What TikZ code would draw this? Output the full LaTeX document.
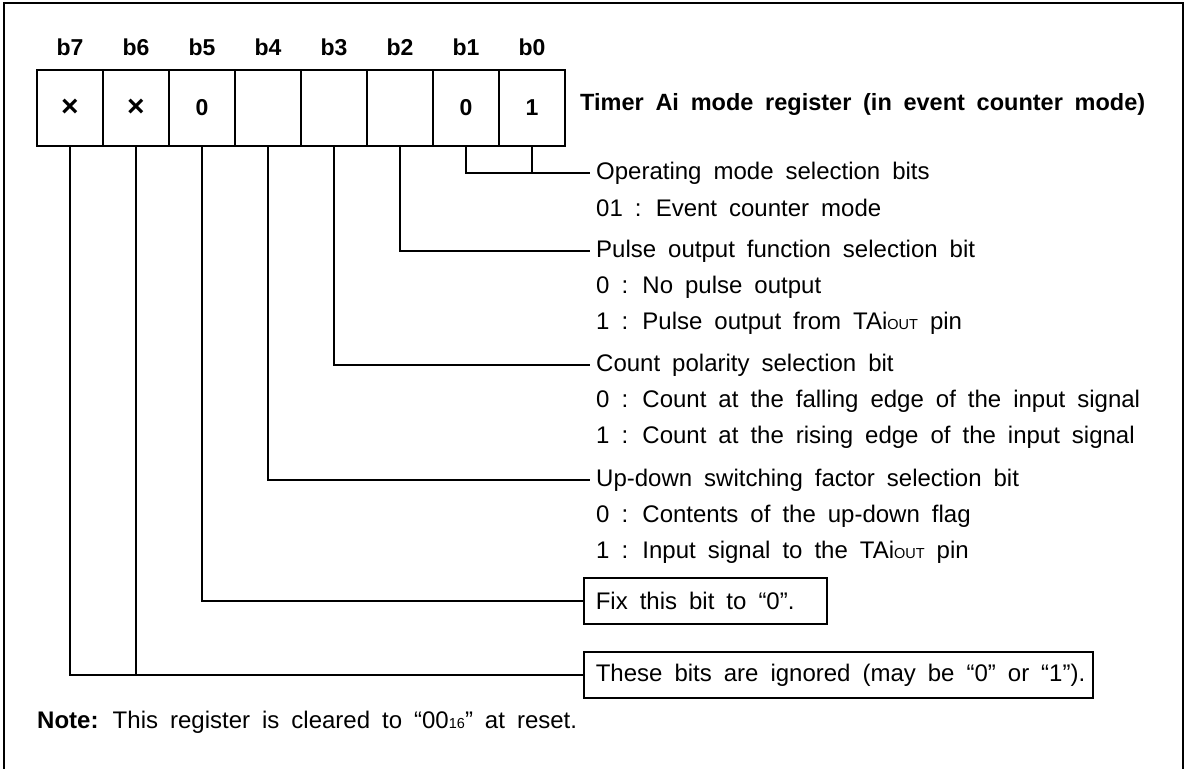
\documentclass[tikz,border=0pt]{standalone}
\usepackage{fontspec}
\setmainfont{Liberation Sans}[WordSpace=1.8]
\newcommand\smtxt[1]{{\fontsize{14.5pt}{14.5pt}\selectfont #1}}
\newcommand\crossmark{{\fontsize{30pt}{30pt}\selectfont\bfseries ×}}
\tikzset{
  wire/.style={line width=1.3pt},
  cell/.style={draw, line width=1.3pt, minimum width=66pt, minimum height=76pt, inner sep=0pt,
    font=\fontsize{23pt}{27pt}\selectfont\bfseries},
  bitlab/.style={inner sep=0pt, font=\fontsize{23pt}{27pt}\selectfont\bfseries},
  lab/.style={anchor=west, inner xsep=6pt, inner ysep=0pt, font=\fontsize{24pt}{28pt}\selectfont},
  notebox/.style={draw, line width=1.6pt, anchor=west, inner xsep=12pt, minimum height=46pt,
    font=\fontsize{24pt}{28pt}\selectfont},
}
\begin{document}
\begin{tikzpicture}[x=1pt,y=-1pt]
\useasboundingbox (0,0) rectangle (1187,769);
\draw[line width=2pt] (4,769) -- (4,3) -- (1183,3) -- (1183,769);
% register cells
\foreach \i/\v [count=\k from 0] in {7/\crossmark,6/\crossmark,5/0,4/,3/,2/,1/0,0/1}{
  \node[cell] (c\i) at (70+66*\k,108) {\v};
  \node[bitlab] (l\i) at (70+66*\k,47) {b\i};
}
\node[anchor=west, inner sep=0pt, font=\fontsize{23.5pt}{27pt}\selectfont\bfseries] (title) at (580,104)
  {Timer Ai mode register (in event counter mode)};
% descriptions
\node[lab] (op)  at (590,173) {Operating mode selection bits};
\node[lab] (op1) at (590,208) {01 : Event counter mode};
\node[lab] (pu)  at (590,251) {Pulse output function selection bit};
\node[lab] (pu0) at (590,287) {0 : No pulse output};
\node[lab] (pu1) at (590,323) {1 : Pulse output from TAi\smtxt{OUT} pin};
\node[lab] (cp)  at (590,365) {Count polarity selection bit};
\node[lab] (cp0) at (590,401) {0 : Count at the falling edge of the input signal};
\node[lab] (cp1) at (590,437) {1 : Count at the rising edge of the input signal};
\node[lab] (ud)  at (590,480) {Up-down switching factor selection bit};
\node[lab] (ud0) at (590,516) {0 : Contents of the up-down flag};
\node[lab] (ud1) at (590,552) {1 : Input signal to the TAi\smtxt{OUT} pin};
\node[notebox] (fix) at (583,601) {\makebox[219pt][l]{Fix this bit to “0”.}};
\node[notebox] (ig) at (583,675) {\makebox[485pt][l]{These bits are ignored (may be “0” or “1”).}};
\node[anchor=west, inner sep=0pt, font=\fontsize{24pt}{28pt}\selectfont] (note) at (37,722)
  {\textbf{Note:} This register is cleared to “00\smtxt{16}” at reset.};
% connectors
\draw[wire] (c1.south) |- (op.west);
\draw[wire] (c0.south) -- (c0.south |- op.west);
\draw[wire] (c2.south) |- (pu.west);
\draw[wire] (c3.south) |- (cp.west);
\draw[wire] (c4.south) |- (ud.west);
\draw[wire] (c5.south) |- (fix.west);
\draw[wire] (c7.south) |- (ig.west);
\draw[wire] (c6.south) -- (c6.south |- ig.west);
\end{tikzpicture}
\end{document}
